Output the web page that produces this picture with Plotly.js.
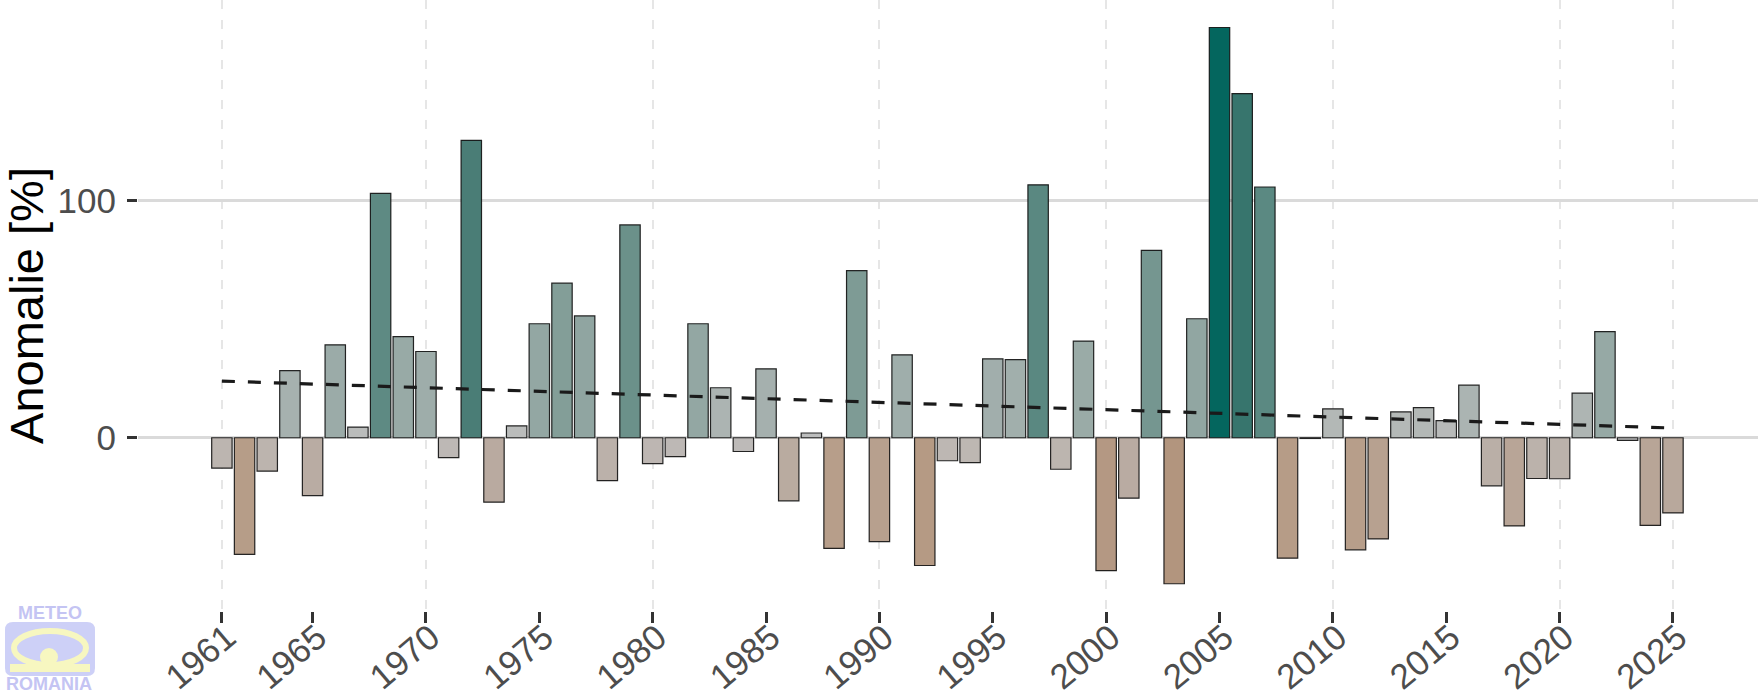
<!DOCTYPE html>
<html>
<head>
<meta charset="utf-8">
<script src="https://cdn.plot.ly/plotly-3.0.1.min.js"></script>
<style>
  html, body { margin: 0; padding: 0; background: #ffffff; }
  #chart { width: 1758px; height: 695px; }
</style>
</head>
<body>
<div id="chart"></div>
<script>
// ---- data ----
const years = [1961,1962,1963,1964,1965,1966,1967,1968,1969,1970,
               1971,1972,1973,1974,1975,1976,1977,1978,1979,1980,
               1981,1982,1983,1984,1985,1986,1987,1988,1989,1990,
               1991,1992,1993,1994,1995,1996,1997,1998,1999,2000,
               2001,2002,2003,2004,2005,2006,2007,2008,2009,2010,
               2011,2012,2013,2014,2015,2016,2017,2018,2019,2020,
               2021,2022,2023,2024,2025];
const anomaly = [-12.8,-49.2,-14.1,28.3,-24.4,39.2,4.5,103.1,42.7,36.4,
                 -8.4,125.5,-27.2,5.0,48.1,65.2,51.4,-18.1,89.8,-10.9,
                 -8.0,48.1,21.1,-5.8,29.1,-26.6,2.0,-46.7,70.5,-43.8,
                 35.0,-53.9,-9.7,-10.5,33.3,33.0,106.7,-13.3,40.8,-56.1,
                 -25.5,79.1,-61.6,50.2,173.1,145.2,105.8,-50.8,-0.3,12.2,
                 -47.3,-42.7,10.9,12.7,7.2,22.2,-20.3,-37.2,-17.2,-17.3,
                 18.8,44.8,-1.1,-37.0,-31.7];
const trendYears = [1961, 2025];
const trendValues = [23.9, 4.1];
const labelYears = [1961,1965,1970,1975,1980,1985,1990,1995,2000,2005,2010,2015,2020,2025];
const gridYears = [1961,1970,1980,1990,2000,2010,2020,2025];
const yTicks = [0, 100];
const yTickText = ['0', '100'];

// ---- colour scale (brown - grey - teal) ----
const cMin = -61.6, cMax = 173.1;
const stopVals = [-61.6,-47,-37,-26,-10,0,10,28,48,70,105,125,145,173.1];
const stopCols = ['#B2957E','#B79E8A','#B8A597','#B9ABA1','#BDB7B3','#BEBEBE','#B5B9B7',
                  '#A6B1AF','#93A7A3','#7E9B95','#5C8982','#4A7D76','#37756D','#04665E'];
const colorscale = stopVals.map((v, i) => [(v - cMin) / (cMax - cMin), stopCols[i]]);

// ---- geometry helpers for the logo (pixel -> paper) ----
const L = 138, R = 0, T = 0, B = 84, W = 1758, H = 695;
const PW = W - L - R, PH = H - T - B;
const px = x => (x - L) / PW;
const py = y => (PH + T - y) / PH;

function roundRect(x0, y0, x1, y1, r) {
  const a = px(x0), b = px(x1), c = py(y0), d = py(y1);
  const rx = r / PW, ry = r / PH;
  return `M ${a+rx},${c} L ${b-rx},${c} Q ${b},${c} ${b},${c-ry} L ${b},${d+ry} Q ${b},${d} ${b-rx},${d} ` +
         `L ${a+rx},${d} Q ${a},${d} ${a},${d+ry} L ${a},${c-ry} Q ${a},${c} ${a+rx},${c} Z`;
}

const logoBlue = '#cdd0f7';
const logoYellow = '#f7f7c0';
const logoText = '#c4c4f3';

const shapes = [
  {type:'path', xref:'paper', yref:'paper', path: roundRect(5, 622, 95, 676, 8),
   fillcolor: logoBlue, line:{width:0}, layer:'above'},
  {type:'circle', xref:'paper', yref:'paper', x0:px(14), x1:px(86), y0:py(631), y1:py(665),
   fillcolor:'rgba(0,0,0,0)', line:{color:logoYellow, width:6}, layer:'above'},
  {type:'rect', xref:'paper', yref:'paper', x0:px(10), x1:px(90), y0:py(664), y1:py(672),
   fillcolor: logoYellow, line:{width:0}, layer:'above'},
  {type:'circle', xref:'paper', yref:'paper', x0:px(40), x1:px(58), y0:py(648), y1:py(666),
   fillcolor: logoYellow, line:{width:0}, layer:'above'}
];

const annotations = [
  {text:'<b>METEO</b>', xref:'paper', yref:'paper', x:px(50), y:py(613), xanchor:'center', yanchor:'middle',
   showarrow:false, font:{family:'Liberation Sans, Arial, sans-serif', size:18, color:logoText}},
  {text:'<b>ROMANIA</b>', xref:'paper', yref:'paper', x:px(49), y:py(684), xanchor:'center', yanchor:'middle',
   showarrow:false, font:{family:'Liberation Sans, Arial, sans-serif', size:18, color:logoText}}
];

const bars = {
  type:'bar', x: years, y: anomaly, width: 0.9,
  marker: {color: anomaly, colorscale: colorscale, cmin: cMin, cmax: cMax, showscale:false,
           line:{color:'rgba(15,15,15,0.9)', width:1.2}},
  hoverinfo:'x+y', showlegend:false
};

const trend = {
  type:'scatter', mode:'lines', x: trendYears, y: trendValues, xaxis:'x2', yaxis:'y',
  line:{color:'#1a1a1a', width:3.2, dash:'13px,13px'}, hoverinfo:'skip', showlegend:false
};

const xRange = [1957.3, 2028.75];
const font = 'Liberation Sans, Arial, sans-serif';

const layout = {
  width: W, height: H,
  margin: {l:L, r:R, t:T, b:B, pad:0},
  paper_bgcolor:'#ffffff', plot_bgcolor:'#ffffff',
  showlegend:false,
  bargap: 0,
  xaxis: {
    range: xRange, tickmode:'array', tickvals: gridYears, showticklabels:false, ticks:'',
    showgrid:true, gridcolor:'#e6e6e6', gridwidth:2, griddash:'9px,11px',
    zeroline:false, showline:false, fixedrange:true
  },
  xaxis2: {
    overlaying:'x', anchor:'y', side:'bottom',
    range: xRange, tickmode:'array', tickvals: labelYears, ticktext: labelYears.map(String),
    ticks:'outside', ticklen:11, tickwidth:3, tickcolor:'#333333',
    tickangle:-40, ticklabelstandoff:-20, ticklabelshift:5,
    tickfont:{family:font, size:35, color:'#4d4d4d'},
    showgrid:false, zeroline:false, showline:false, fixedrange:true
  },
  yaxis: {
    range: [-73.1, 184.7], tickmode:'array', tickvals: yTicks, ticktext: yTickText,
    ticks:'outside', ticklen:10, tickwidth:3, tickcolor:'#333333', ticklabelstandoff:4,
    tickfont:{family:font, size:35, color:'#4d4d4d'},
    showgrid:true, gridcolor:'#dadada', gridwidth:3,
    zeroline:false, showline:false, fixedrange:true,
    title:{text:'Anomalie [%]', font:{family:font, size:47, color:'#000000'}, standoff:20}
  },
  shapes: shapes,
  annotations: annotations
};

Plotly.newPlot('chart', [bars, trend], layout, {displayModeBar:false, staticPlot:true});
</script>
</body>
</html>
